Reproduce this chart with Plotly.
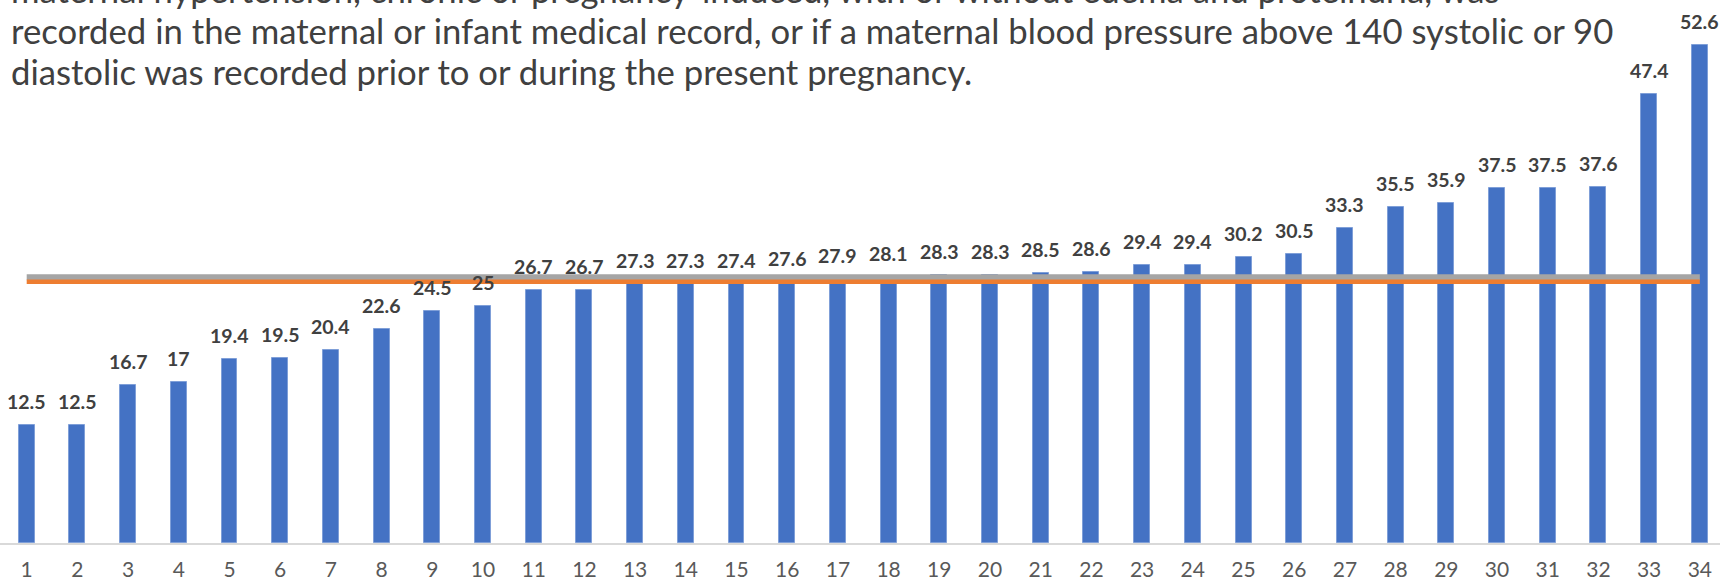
import plotly.graph_objects as go

# ---------------- data ----------------
categories = list(range(1, 35))
tick_labels = [str(c) for c in categories]
values = [12.5, 12.5, 16.7, 17, 19.4, 19.5, 20.4, 22.6, 24.5, 25,
          26.7, 26.7, 27.3, 27.3, 27.4, 27.6, 27.9, 28.1, 28.3, 28.3,
          28.5, 28.6, 29.4, 29.4, 30.2, 30.5, 33.3, 35.5, 35.9, 37.5,
          37.5, 37.6, 47.4, 52.6]
gray_level = [28.05] * len(categories)
orange_level = [27.6] * len(categories)
title_lines = [
    "maternal hypertension, chronic or pregnancy-induced, with or without edema and proteinuria, was",
    "recorded in the maternal or infant medical record, or if a maternal blood pressure above 140 systolic or 90",
    "diastolic was recorded prior to or during the present pregnancy.",
]

# ---------------- layout constants ----------------
W, H = 1720, 583
MB = 40                    # bottom margin (plot area ends at baseline)
PH = H - MB                # plot height in px
FONT = "Lato"
TITLE_SIZE = 34.7
title_baselines_px = [3, 44, 85]   # from top of figure

fig = go.Figure()

fig.add_trace(go.Bar(
    x=categories, y=values, width=0.315,
    marker=dict(color="#4472C4", line=dict(color="#7F9FD8", width=1)),
    hoverinfo="skip", showlegend=False,
))
fig.add_trace(go.Scatter(
    x=categories, y=gray_level, mode="lines",
    line=dict(color="#A5A5A5", width=6), showlegend=False, hoverinfo="skip",
))
fig.add_trace(go.Scatter(
    x=categories, y=orange_level, mode="lines",
    line=dict(color="#ED7D31", width=4.5), showlegend=False, hoverinfo="skip",
))

annotations = []
for c, v in zip(categories, values):
    annotations.append(dict(
        x=c, y=v, xref="x", yref="y", text=f"<b>{v:g}</b>",
        showarrow=False, xanchor="center", yanchor="bottom", yshift=10,
        font=dict(family=FONT, size=19.5, color="#404040"),
    ))

descent = 0.213 * TITLE_SIZE + 2
for line, base in zip(title_lines, title_baselines_px):
    bottom_px = base + descent
    annotations.append(dict(
        x=9 / W, y=(PH - bottom_px) / PH, xref="paper", yref="paper",
        text=line, showarrow=False, xanchor="left", yanchor="bottom",
        font=dict(family=FONT, size=TITLE_SIZE, color="#404040"),
    ))

fig.update_layout(
    width=W, height=H,
    margin=dict(l=0, r=0, t=0, b=MB),
    paper_bgcolor="white", plot_bgcolor="white",
    bargap=0,
    xaxis=dict(
        type="linear", range=[0.4734, 34.398], automargin=False,
        tickmode="array", tickvals=categories, ticktext=tick_labels,
        showgrid=False, zeroline=False,
        showline=True, linecolor="#D9D9D9", linewidth=1.5,
        ticks="", ticklabelstandoff=7,
        tickfont=dict(family=FONT, size=21, color="#595959"),
    ),
    yaxis=dict(
        range=[0, PH / 9.47], visible=False, showgrid=False, zeroline=False,
        automargin=False,
    ),
    annotations=annotations,
)

fig.write_html(
    "out.html",
    config={"displayModeBar": False},
    post_script="document.body.style.margin='0';document.body.style.padding='0';",
)
